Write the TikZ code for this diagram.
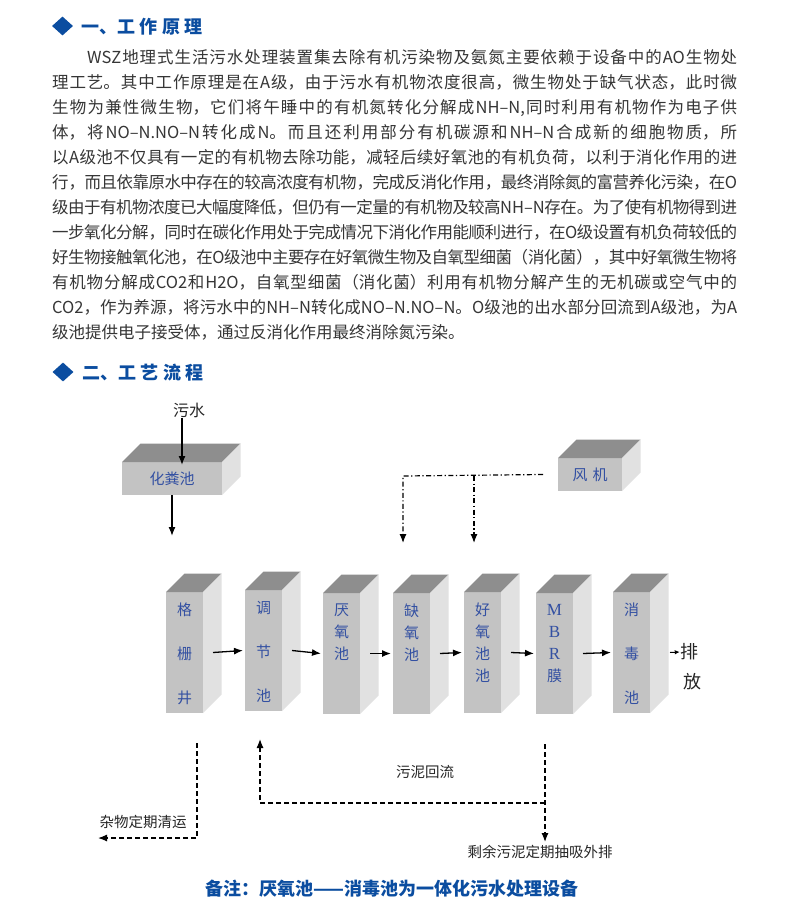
\documentclass[tikz,border=0pt]{standalone}
\usepackage{fontspec}
\setmainfont{Noto Sans CJK SC}
\newfontfamily\latinserif{Liberation Serif}
\usepackage{xcolor}
\usetikzlibrary{arrows.meta}
\usetikzlibrary{calc, math}
\usetikzlibrary{shapes.geometric}

\XeTeXlinebreaklocale "zh"
\XeTeXlinebreakskip=0pt plus 2pt minus 1.2pt

\definecolor{titleblue}{HTML}{0B4DA0}
\definecolor{bodygray}{HTML}{363636}
\definecolor{labelblue}{HTML}{3350A2}
\definecolor{facefront}{HTML}{C3C3C3}
\definecolor{facetop}{HTML}{8E8E8E}
\definecolor{faceside}{HTML}{E1E1E1}

\newcommand{\justline}[2][685pt]{\parbox[t]{#1}{\tolerance=10000\hyphenpenalty=10000\parfillskip=0pt\relax #2}}

\tikzset{
 body/.style={anchor=base west, inner sep=0pt, text=bodygray, font=\fontsize{16.5}{20}\selectfont},
 head/.style={anchor=base west, inner sep=0pt, text=titleblue, font=\fontsize{18}{20}\selectfont\bfseries},
 bullet/.style={diamond, fill=titleblue, inner sep=0pt, minimum width=21pt, minimum height=19pt},
 front/.style={anchor=north west, fill=facefront, inner sep=0pt, outer sep=0pt},
 boxlbl/.style={text=labelblue, inner sep=0pt, font=\fontsize{15}{20}\selectfont},
 tanklbl/.style={text=labelblue, inner sep=0pt, anchor=north, align=center, font=\fontsize{15}{22}\selectfont},
 lbl/.style={text=black!85, inner sep=0pt, font=\fontsize{14.5}{18}\selectfont},
 tip/.style={-{Latex[length=9pt, width=7pt]}},
 flow/.style={tip, line width=1.3pt},
 air/.style={tip, line width=1.2pt, dash pattern=on 5pt off 2.5pt on 1.2pt off 2.5pt},
 sludge/.style={tip, line width=1.2pt, dash pattern=on 5pt off 3pt},
}

\begin{document}
\begin{tikzpicture}[x=1pt, y=-1pt]
\tikzmath{
\d=18.5;
}
 \fill[white] (0,0) rectangle (790,908);
 \useasboundingbox (0,0) rectangle (790,908);

 %section one:
 \node[bullet] (b1) at (62.5,26) {};
 \node[head] (h1) at (81,33) {一、工\hspace{4.5pt}作\hspace{4.5pt}原\hspace{4.5pt}理};

 \node[body] (p1) at (87,63.3) {\justline[650pt]{WSZ地理式生活污水处理装置集去除有机污染物及氨氮主要依赖于设备中的AO生物处}};
 \node[body] (p2) at (52,88.3) {\justline{理工艺。其中工作原理是在A级，由于污水有机物浓度很高，微生物处于缺气状态，此时微}};
 \node[body] (p3) at (52,113.3) {\justline{生物为兼性微生物，它们将午睡中的有机氮转化分解成NH–N,同时利用有机物作为电子供}};
 \node[body] (p4) at (52,138.3) {\justline{体，将NO–N.NO–N转化成N。而且还利用部分有机碳源和NH–N合成新的细胞物质，所}};
 \node[body] (p5) at (52,163.3) {\justline{以A级池不仅具有一定的有机物去除功能，减轻后续好氧池的有机负荷，以利于消化作用的进}};
 \node[body] (p6) at (52,188.3) {\justline{行，而且依靠原水中存在的较高浓度有机物，完成反消化作用，最终消除氮的富营养化污染，在O}};
 \node[body] (p7) at (52,213.3) {\justline{级由于有机物浓度已大幅度降低，但仍有一定量的有机物及较高NH–N存在。为了使有机物得到进}};
 \node[body] (p8) at (52,238.3) {\justline{一步氧化分解，同时在碳化作用处于完成情况下消化作用能顺利进行，在O级设置有机负荷较低的}};
 \node[body] (p9) at (52,263.3) {\justline{好生物接触氧化池，在O级池中主要存在好氧微生物及自氧型细菌（消化菌），其中好氧微生物将}};
 \node[body] (p10) at (52,288.3) {\justline{有机物分解成CO2和H2O，自氧型细菌（消化菌）利用有机物分解产生的无机碳或空气中的}};
 \node[body] (p11) at (52,313.3) {\justline{CO2，作为养源，将污水中的NH–N转化成NO–N.NO–N。O级池的出水部分回流到A级池，为A}};
 \node[body] (p12) at (52,338.3) {级池提供电子接受体，通过反消化作用最终消除氮污染。};

 %section two:
 \node[bullet] (b2) at (63,372) {};
 \node[head] (h2) at (82,379) {二、工\hspace{4.5pt}艺\hspace{4.5pt}流\hspace{4.5pt}程};

 %boxes:
 \foreach \n/\x/\y/\w/\h in {hfc/122/462/100/33, fj/558/458/64/33, gs/166/592/37/121, tj/245/590/37/121, yy/323/593/37/121, qy/393/593/37/121, hy/464/592/37/121, mbr/536/593/37/121, xd/613/592/37/121}{
  \node[front, minimum width=\w pt, minimum height=\h pt] (\n) at (\x,\y) {};
  \fill[facetop] (\n.north west) -- ++(\d,-\d) -- ++(\w,0) -- (\n.north east) -- cycle;
  \fill[faceside] (\n.north east) -- ++(\d,-\d) -- ++(0,\h) -- (\n.south east) -- cycle;
 }
 \node[boxlbl] (hfc-t) at (hfc) {化粪池};
 \node[boxlbl] (fj-t) at (fj) {风\hspace{5pt}机};
 \foreach \n/\t in {gs/{格\\[22pt]栅\\[22pt]井}, tj/{调\\[22pt]节\\[22pt]池}, yy/{厌\\氧\\池}, qy/{缺\\氧\\池}, hy/{好\\氧\\池\\池}, mbr/{{\latinserif\fontsize{17}{22}\selectfont M}\\{\latinserif\fontsize{17}{22}\selectfont B}\\{\latinserif\fontsize{17}{22}\selectfont R}\\膜}, xd/{消\\[22pt]毒\\[22pt]池}}
  \node[tanklbl] (\n-t) at ($(\n.north)+(0,11)$) {\t};

 %inflow:
 \node[lbl, font=\fontsize{16}{18}\selectfont] (ws) at (189,410) {污水};
 \draw[flow] ([xshift=-7pt]ws.south) -- ([xshift=10pt,yshift=-3pt]hfc.north);
 \coordinate (gsin) at (172,536);
 \draw[flow] (hfc.south) -- (gsin);

 %tank to tank:
 \foreach \a/\b in {gs/tj, tj/yy, yy/qy, qy/hy, hy/mbr, mbr/xd}
  \draw[flow] ($(\a.east)+(10,0)$) -- ($(\b.west)+(-2,0)$);

 \node[lbl, font=\fontsize{18}{20}\selectfont] (pai) at (689,652) {排};
 \node[lbl, font=\fontsize{18}{20}\selectfont] (fang) at (692,682) {放};
 \draw[-{Latex[length=5pt, width=4.5pt]}, line width=1pt] ($(xd.east)+(20,0)$) -- (pai.west);

 %air:
 \coordinate (air1) at (403,476);
 \coordinate (air2) at (474,476);
 \coordinate (qyin) at (403,543);
 \coordinate (hyin) at (474,543);
 \draw[air] ([xshift=-15pt]fj.west) -- (air1) -- (qyin);
 \draw[air] (air2) -- (hyin);

 %sludge:
 \coordinate (gsout) at ($(gs.south east)+(-6,30)$);
 \coordinate (zwend) at (98,838);
 \draw[sludge] (gsout) -- (gsout |- zwend) -- (zwend);
 \node[lbl] (zw) at (143,822) {杂物定期清运};

 \coordinate (mbrout) at ($(mbr.south west)+(9,30)$);
 \coordinate (syend) at (545,842);
 \coordinate (ret) at (545,803);
 \coordinate (tjin) at ($(tj.south west)+(15,28)$);
 \draw[sludge] (mbrout) -- (syend);
 \draw[sludge] (ret) -- (tjin |- ret) -- (tjin);
 \node[lbl] (wn) at (425,772) {污泥回流};
 \node[lbl] (sy) at (540,852) {剩余污泥定期抽吸外排};

 %note:
 \node[head] (note) at (205,895) {备注：厌氧池——消毒池为一体化污水处理设备};
\end{tikzpicture}
\end{document}
